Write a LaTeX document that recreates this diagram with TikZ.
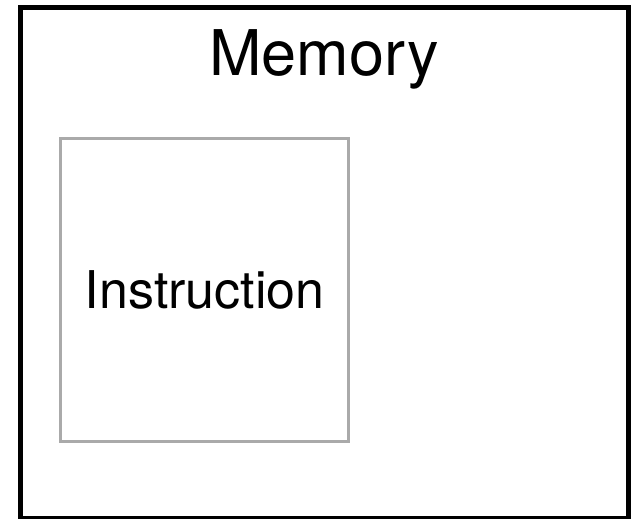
\documentclass[tikz,border=0pt]{standalone}
\usepackage{fontspec}
\setmainfont{TeX Gyre Heros}
\definecolor{boxgray}{HTML}{AAAAAA}
\tikzset{
  membox/.style={draw=black,line width=5pt,inner sep=0pt,outer sep=0pt,
    minimum width=608pt,minimum height=510.5pt},
  instrbox/.style={draw=boxgray,line width=2.5pt,inner sep=0pt,outer sep=0pt,
    minimum width=288pt,minimum height=303pt,font=\fontsize{52}{60}\selectfont}
}
\tikzstyle{every node}=[color=black]

\begin{document}
\begin{tikzpicture}[x=1pt,y=-1pt]
    \useasboundingbox (0,0) rectangle (632,519);
    \node[membox] (mem) at (324.5,262.75) {};
    \node[anchor=base,font=\fontsize{63}{70}\selectfont] (memlabel) at (324,75.7) {Memory};
    \node[instrbox] (instr) at (204.7,290.2) {Instruction};
\end{tikzpicture}
\end{document}
